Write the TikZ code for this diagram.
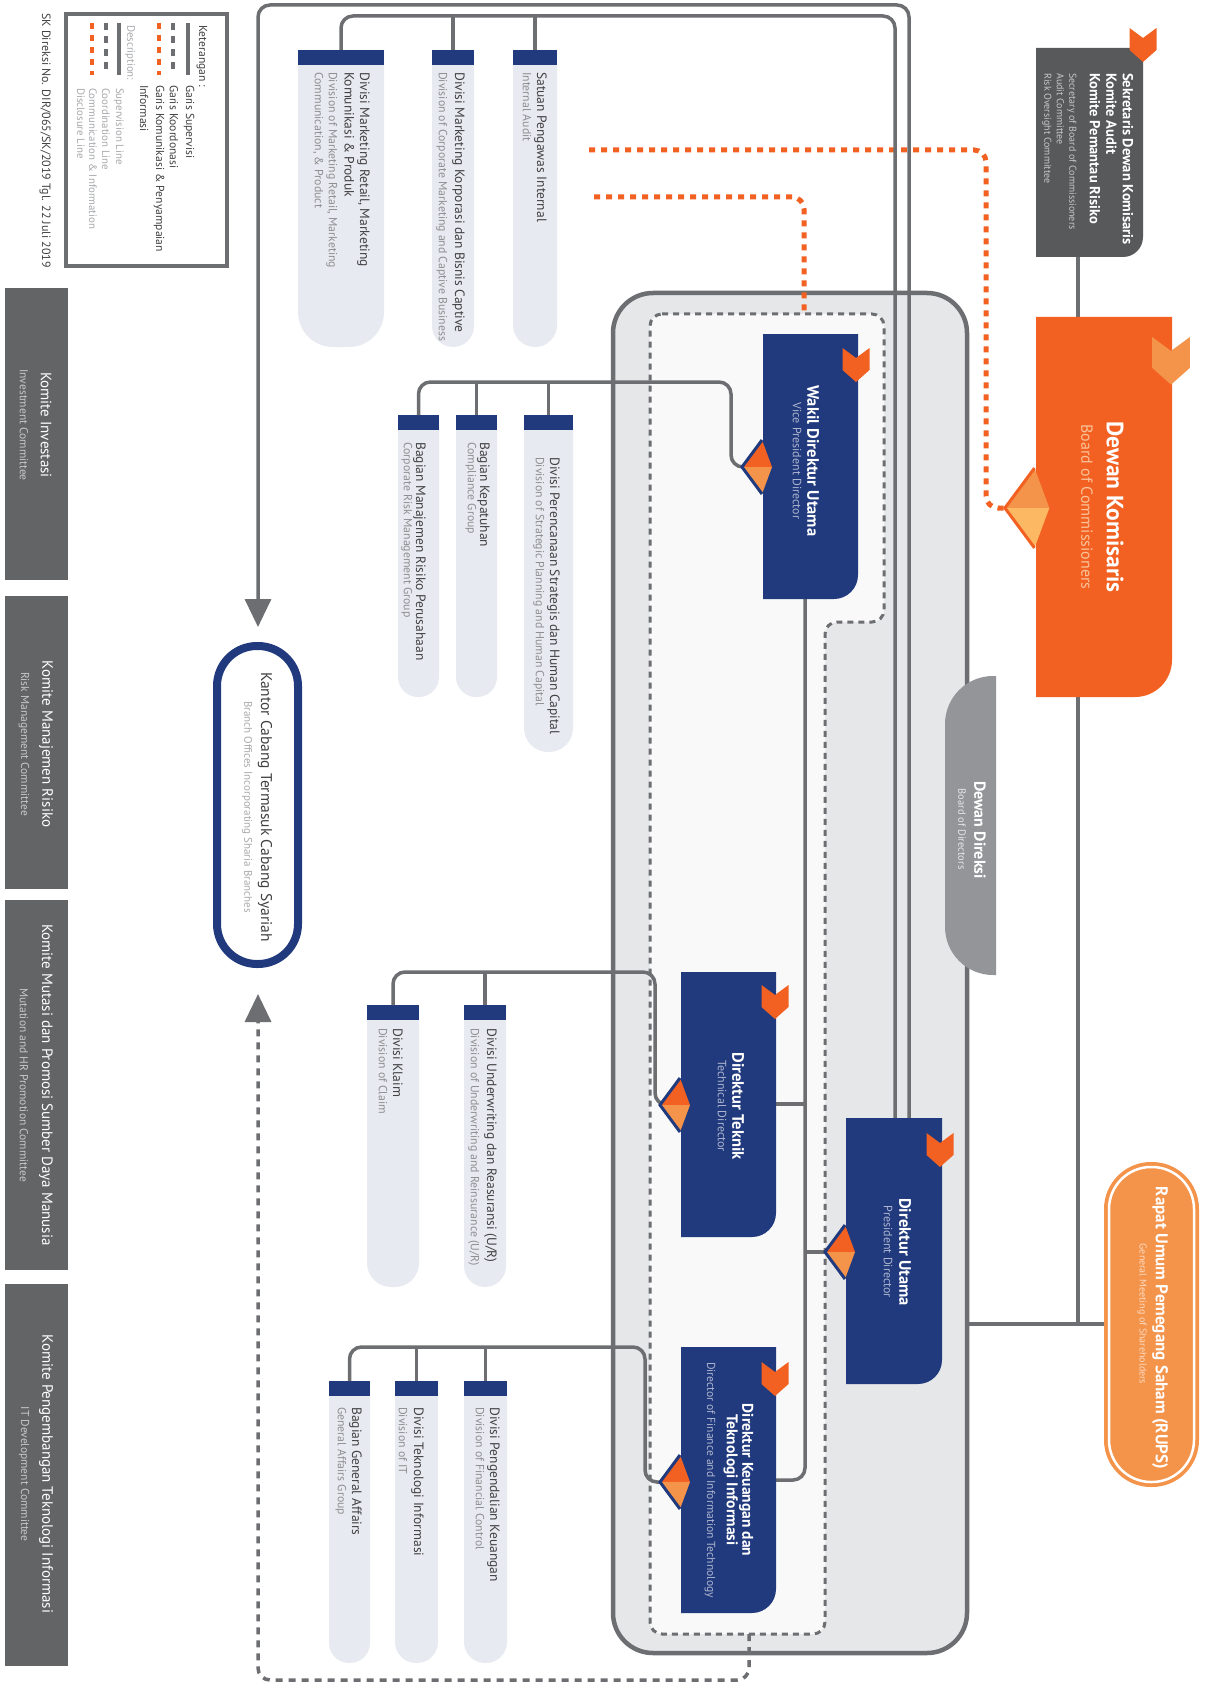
\documentclass[tikz,border=0pt]{standalone}
\usepackage{fontspec}
\setmainfont{PT Sans}
\usetikzlibrary{arrows.meta}

\definecolor{bniNavy}{HTML}{213A7D}
\definecolor{bniOrange}{HTML}{F26122}
\definecolor{bniOrangeL}{HTML}{F4934A}
\definecolor{bniYellow}{HTML}{FDB863}
\definecolor{bniLine}{HTML}{6D6E71}
\definecolor{bniDark}{HTML}{58595B}
\definecolor{bniKom}{HTML}{636466}
\definecolor{bniCol}{HTML}{E8EAF1}
\definecolor{bniBox}{HTML}{E6E7E8}
\definecolor{bniInner}{HTML}{F9F9F9}
\definecolor{bniMid}{HTML}{939598}
\definecolor{bniTxt}{HTML}{414042}
\definecolor{bniSoft}{HTML}{8C8E90}
\definecolor{bniSoftL}{HTML}{A7A9AC}
\definecolor{bniKomSub}{HTML}{C7C8CA}
\definecolor{bniNavySub}{HTML}{AEB6D0}
\definecolor{bniPeach}{HTML}{FAC39A}
\definecolor{bniPeachL}{HTML}{FDDCC4}

\newcommand{\cornerbox}[6]{% colour, left, top, right, bottom, radius
  \fill[#1] (#2,#3) -- (#4,#3) -- (#4,{#5-#6}) .. controls (#4,{#5-0.448*#6}) and ({#4-0.448*#6},#5) .. ({#4-#6},#5) -- (#2,#5) -- cycle;}
\newcommand{\divcol}[6]{% name, left, right, top, bottom, radius
  \fill[bniCol] (#2,#4) -- (#3,#4) -- (#3,{#5-#6}) .. controls (#3,{#5-0.448*#6}) and ({#3-0.448*#6},#5) .. ({#3-#6},#5) -- ({#2+#6},#5) .. controls ({#2+0.448*#6},#5) and (#2,{#5-0.448*#6}) .. (#2,{#5-#6}) -- cycle;
  \fill[bniNavy] (#2,#4) rectangle (#3,{#4+15});
  \coordinate (#1) at ({(#2+#3)/2},#4);}
\newcommand{\chev}[4][1]{% scale, centre x, top y, colour
  \fill[#4, shift={(#2,#3)}, scale=#1] (-13.5,0) -- (0,10) -- (13.5,0) -- (13.5,22) -- (0,34) -- (-13.5,22) -- cycle;}
\newcommand{\kite}[6]{% box left x, centre y, scale, upper, lower, rim
  \begin{scope}[shift={(#1,#2)}, scale=#3]
    \fill[#4] (-21,0) -- (-1,-27) -- (9,0) -- cycle;
    \fill[#5] (-21,0) -- (-1,27) -- (9,0) -- cycle;
    \draw[#6, line width=3pt, line join=miter] (-1,-27) -- (-21,0) -- (-1,27);
  \end{scope}}

\begin{document}
\begin{tikzpicture}[x=1pt, y=-1pt,
    supline/.style={draw=bniLine, line width=3.5pt, rounded corners=12pt},
    koorline/.style={draw=bniLine, line width=3.5pt, dash pattern=on 7pt off 6pt, rounded corners=12pt},
    infoline/.style={draw=bniOrange, line width=5pt, dash pattern=on 6pt off 6pt, rounded corners=12pt},
    bigtip/.style={-{Triangle[width=26pt,length=28pt]}},
    rot/.style={rotate=-90, inner sep=0pt},
    legtext/.style={rot, anchor=west, text=bniTxt, font=\fontsize{11.6}{16}\selectfont},
    legsub/.style={rot, anchor=west, text=bniSoftL, font=\fontsize{10.8}{12}\selectfont},
    komtext/.style={rot, text=white, font=\fontsize{15}{18}\selectfont},
    komsub/.style={rot, text=bniKomSub, font=\fontsize{11.5}{14}\selectfont},
    divmain/.style={rot, anchor=north west, align=left, text=bniTxt, font=\fontsize{13.5}{15.5}\selectfont},
    diveng/.style={rot, anchor=north west, align=left, text=bniSoft, font=\fontsize{11.8}{14}\selectfont},
    dirmain/.style={rot, align=center, text=white, font=\bfseries\fontsize{16.5}{15}\selectfont},
    direng/.style={rot, text=bniNavySub, font=\fontsize{12}{14}\selectfont}
  ]
  \fill[white] (0,0) rectangle (1208,1685);

  % legend
  \draw[bniLine, line width=4.5pt, fill=white] (66,14) rectangle (227,266);
  \draw[supline] (188,23) -- (188,75);
  \draw[koorline, line width=4pt] (173,23) -- (173,75);
  \draw[infoline, line width=4pt] (159,23) -- (159,75);
  \draw[supline] (119,23) -- (119,75);
  \draw[koorline, line width=4pt] (106,23) -- (106,75);
  \draw[infoline, line width=4pt] (92,23) -- (92,75);
  \node[legtext] (leg-title) at (202,25) {Keterangan :};
  \node[legtext] (leg-sup) at (189,85) {Garis Supervisi};
  \node[legtext] (leg-koor) at (174,85) {Garis Koordonasi};
  \node[legtext, anchor=north west, align=left] (leg-kom) at (164.5,85) {Garis Komunikasi \& Penyampaian\\Informasi};
  \node[legsub] (leg-desc) at (130,25) {Description:};
  \node[legsub] (leg-sup-en) at (119,88) {Supervision Line};
  \node[legsub] (leg-koor-en) at (106,88) {Coordination Line};
  \node[legsub, anchor=north west, align=left] (leg-kom-en) at (97,88) {Communication \& Information\\Disclosure Line};
  \node[legtext, font=\fontsize{12}{14}\selectfont] (sk) at (45,13) {SK Direksi No. DIR/065/SK/2019 Tgl. 22 Juli 2019};

  % committees
  \fill[bniKom] (5,288) rectangle (68,580);
  \fill[bniKom] (5,596) rectangle (68,889);
  \fill[bniKom] (5,900) rectangle (68,1270);
  \fill[bniKom] (5,1284) rectangle (68,1666);
  \node[komtext] (kom-inv) at (46,425) {Komite Investasi};
  \node[komsub] (kom-inv-en) at (24,425) {Investment Committee};
  \node[komtext] (kom-mr) at (46,744) {Komite Manajemen Risiko};
  \node[komsub] (kom-mr-en) at (24,744) {Risk Management Committee};
  \node[komtext] (kom-sdm) at (46,1085) {Komite Mutasi dan Promosi Sumber Daya Manusia};
  \node[komsub] (kom-sdm-en) at (24,1085) {Mutation and HR Promotion Committee};
  \node[komtext] (kom-ti) at (46,1474) {Komite Pengembangan Teknologi Informasi};
  \node[komsub] (kom-ti-en) at (24,1474) {IT Development Committee};

  % board of directors area
  \draw[bniLine, line width=4.5pt, fill=bniBox, rounded corners=40pt] (613,293) rectangle (967,1653);
  \draw[bniLine, line width=3pt, dash pattern=on 6pt off 5pt, fill=bniInner, rounded corners=12pt]
    (650,314) -- (884,314) -- (884,622) -- (825,622) -- (825,1634) -- (650,1634) -- cycle;

  % division columns
  \divcol{c-ret}{298}{384}{50}{347}{35}
  \divcol{c-kor}{432}{474}{50}{347}{21}
  \divcol{c-spi}{513}{557}{50}{347}{22}
  \divcol{c-mr}{398}{439}{415}{697}{20}
  \divcol{c-kep}{456}{497}{415}{697}{20}
  \divcol{c-psh}{524}{573}{415}{752}{24}
  \divcol{c-klm}{367}{419}{1005}{1287}{24}
  \divcol{c-uw}{464}{506}{1005}{1287}{21}
  \divcol{c-ga}{329}{370}{1381}{1663}{20}
  \divcol{c-ti}{395}{438}{1381}{1663}{21}
  \divcol{c-pk}{464}{507}{1381}{1663}{21}

  \coordinate (sek-s) at (1078,257);
  \coordinate (dk-n) at (1078,317);
  \coordinate (dk-s) at (1078,697);
  \coordinate (dk-w) at (1005,508);
  \coordinate (rups-w) at (1105,1324);
  \coordinate (bod-e) at (967,1324);
  \coordinate (wdu-w) at (742,467);
  \coordinate (wdu-s) at (805,599);
  \coordinate (wdu-bus) at (731,382);
  \coordinate (dt-w) at (660,1105);
  \coordinate (dt-e) at (776,1104);
  \coordinate (dt-bus) at (655,972);
  \coordinate (du-w) at (825,1252);
  \coordinate (du-n1) at (895,1118);
  \coordinate (du-n2) at (909,1118);
  \coordinate (dkt-w) at (662,1482);
  \coordinate (dkt-e) at (776,1480);
  \coordinate (dkt-bus) at (645,1347);
  \coordinate (kc-n) at (258,627);
  \coordinate (kc-s) at (258,994);
  \coordinate (inner-n) at (804,314);
  \coordinate (inner-s) at (749,1634);
  \coordinate (info-a) at (589,150);
  \coordinate (info-b) at (594,197);
  \coordinate (info-turn) at (986,150);
  \coordinate (top-a) at (0,5);
  \coordinate (top-b) at (0,16);
  \coordinate (koor-low) at (0,1680);

  % communication lines
  \draw[infoline] (info-a) -- (info-turn) -- (info-turn |- dk-w) -- (dk-w);
  \draw[infoline] (info-b) -- (inner-n |- info-b) -- (inner-n);

  % supervision lines
  \draw[supline, bigtip] (du-n2) -- (du-n2 |- top-a) -- (kc-n |- top-a) -- (kc-n);
  \draw[supline] (du-n1) -- (du-n1 |- top-b) -- (c-ret |- top-b) -- (c-ret);
  \draw[supline] (c-kor |- top-b) -- (c-kor);
  \draw[supline] (c-spi |- top-b) -- (c-spi);
  \draw[supline] (c-mr) -- (c-mr |- wdu-bus) -- (wdu-bus) -- (wdu-bus |- wdu-w) -- (wdu-w);
  \draw[supline] (c-kep |- wdu-bus) -- (c-kep);
  \draw[supline] (c-psh |- wdu-bus) -- (c-psh);
  \draw[supline] (c-klm) -- (c-klm |- dt-bus) -- (dt-bus) -- (dt-bus |- dt-w) -- (dt-w);
  \draw[supline] (c-uw |- dt-bus) -- (c-uw);
  \draw[supline] (c-ga) -- (c-ga |- dkt-bus) -- (dkt-bus) -- (dkt-bus |- dkt-w) -- (dkt-w);
  \draw[supline] (c-ti |- dkt-bus) -- (c-ti);
  \draw[supline] (c-pk |- dkt-bus) -- (c-pk);
  \draw[supline] (wdu-s) -- (wdu-s |- dkt-e) -- (dkt-e);
  \draw[supline] (dt-e) -- (dt-e -| wdu-s);
  \draw[supline] (wdu-s |- du-w) -- (du-w);
  \draw[supline] (sek-s) -- (dk-n);
  \draw[supline] (dk-s) -- (dk-s |- rups-w);
  \draw[supline] (bod-e) -- (rups-w);
  \draw[koorline, bigtip] (inner-s) -- (inner-s |- koor-low) -- (kc-s |- koor-low) -- (kc-s);

  % boxes
  \cornerbox{bniDark}{1036}{48}{1143}{257}{20}
  \cornerbox{bniOrange}{1036}{317}{1172}{697}{37}
  \cornerbox{bniNavy}{763}{334}{858}{599}{24}
  \cornerbox{bniNavy}{681}{972}{776}{1237}{24}
  \cornerbox{bniNavy}{846}{1118}{942}{1384}{24}
  \cornerbox{bniNavy}{681}{1347}{776}{1613}{24}
  \fill[bniMid] (996,676) -- (993,676) .. controls (966.5,676) and (945,697.5) .. (945,724)
    -- (945,927) .. controls (945,953.5) and (966.5,975) .. (993,975) -- (996,975) -- cycle;
  \fill[bniOrangeL, rounded corners=47pt] (1104,1162) rectangle (1199,1487);
  \draw[white, line width=2.5pt, rounded corners=42pt] (1109,1167) rectangle (1194,1482);
  \draw[bniNavy, line width=8pt, fill=white, rounded corners=40pt] (217,646) rectangle (298,964);

  \kite{1036}{508}{1.48}{bniOrangeL}{bniYellow}{bniOrange}
  \kite{763}{467}{1}{bniOrange}{bniOrangeL}{bniNavy}
  \kite{681}{1105}{1}{bniOrange}{bniOrangeL}{bniNavy}
  \kite{846}{1252}{1}{bniOrange}{bniOrangeL}{bniNavy}
  \kite{681}{1482}{1}{bniOrange}{bniOrangeL}{bniNavy}
  \chev{1143}{28}{bniOrange}
  \chev[1.4]{1171}{337}{bniOrangeL}
  \chev{856}{348}{bniOrange}
  \chev{775}{985}{bniOrange}
  \chev{940}{1133}{bniOrange}
  \chev{775}{1362}{bniOrange}

  % texts
  \node[rot, anchor=north west, align=left, text=white, font=\bfseries\fontsize{14.5}{16.5}\selectfont] (sek) at (1133.4,73)
    {Sekretaris Dewan Komisaris\\Komite Audit\\Komite Pemantau Risiko};
  \node[rot, anchor=north west, align=left, text=bniKomSub, font=\fontsize{10}{12.5}\selectfont] (sek-en) at (1076.7,73)
    {Secretary of Board of Commissioners\\Audit Committee\\Risk Oversight Committee};
  \node[rot, text=white, font=\bfseries\fontsize{23.5}{26}\selectfont] (dk) at (1115,507) {Dewan Komisaris};
  \node[rot, text=bniPeach, font=\fontsize{16}{19}\selectfont] (dk-en) at (1087,507) {Board of Commissioners};
  \node[rot, text=white, font=\bfseries\fontsize{17}{20}\selectfont] (rups) at (1160,1328) {Rapat Umum Pemegang Saham (RUPS)};
  \node[rot, text=bniPeachL, font=\fontsize{10}{12}\selectfont] (rups-en) at (1142,1314) {General Meeting of Shareholders};
  \node[rot, text=white, font=\bfseries\fontsize{16}{18}\selectfont] (bod) at (980,830) {Dewan Direksi};
  \node[rot, text=bniBox, font=\fontsize{10.5}{13}\selectfont] (bod-en) at (962,829) {Board of Directors};
  \node[dirmain] (wdu) at (813,461) {Wakil Direktur Utama};
  \node[direng] (wdu-en) at (797,461) {Vice President Director};
  \node[dirmain] (dt) at (738,1106) {Direktur Teknik};
  \node[direng] (dt-en) at (722,1106) {Technical Director};
  \node[dirmain] (du) at (905,1252) {Direktur Utama};
  \node[direng] (du-en) at (888,1252) {President Director};
  \node[dirmain, font=\bfseries\fontsize{15.5}{14}\selectfont] (dkt) at (738.5,1480) {Direktur Keuangan dan\\Teknologi Informasi};
  \node[direng, font=\fontsize{11.6}{14}\selectfont] (dkt-en) at (710,1480) {Director of Finance and Information Technology};
  \node[rot, text=bniTxt, font=\fontsize{15.5}{18}\selectfont] (kc) at (265,807) {Kantor Cabang Termasuk Cabang Syariah};
  \node[rot, text=bniSoftL, font=\fontsize{11}{13}\selectfont] (kc-en) at (247,807) {Branch Offices Incorporating Sharia Branches};

  \node[divmain] (t-ret) at (370,72) {Divisi Marketing Retail, Marketing\\Komunikasi \& Produk};
  \node[diveng] (t-ret-en) at (337.4,72) {Division of Marketing Retail, Marketing\\Communication, \& Product};
  \node[divmain] (t-kor) at (465,72) {Divisi Marketing Korporasi dan Bisnis Captive};
  \node[diveng] (t-kor-en) at (447.4,72) {Division of Corporate Marketing and Captive Business};
  \node[divmain] (t-spi) at (547,72) {Satuan Pengawas Internal};
  \node[diveng] (t-spi-en) at (531.4,72) {Internal Audit};
  \node[divmain] (t-mr) at (426,442) {Bagian Manajemen Risiko Perusahaan};
  \node[diveng] (t-mr-en) at (412.4,442) {Corporate Risk Management Group};
  \node[divmain] (t-kep) at (490,442) {Bagian Kepatuhan};
  \node[diveng] (t-kep-en) at (476.4,442) {Compliance Group};
  \node[divmain] (t-psh) at (560,457) {Divisi Perencanaan Strategis dan Human Capital};
  \node[diveng] (t-psh-en) at (544.4,457) {Division of Strategic Planning and Human Capital};
  \node[divmain] (t-klm) at (403,1028) {Divisi Klaim};
  \node[diveng] (t-klm-en) at (387.4,1028) {Division of Claim};
  \node[divmain] (t-uw) at (497,1028) {Divisi Underwriting dan Reasuransi (U/R)};
  \node[diveng] (t-uw-en) at (479.4,1028) {Division of Underwriting and Reinsurance (U/R)};
  \node[divmain] (t-ga) at (362,1407) {Bagian General Affairs};
  \node[diveng] (t-ga-en) at (346.4,1407) {General Affairs Group};
  \node[divmain] (t-ti) at (424,1407) {Divisi Teknologi Informasi};
  \node[diveng] (t-ti-en) at (407.4,1407) {Division of IT};
  \node[divmain] (t-pk) at (500,1407) {Divisi Pengendalian Keuangan};
  \node[diveng] (t-pk-en) at (484.4,1407) {Division of Financial Control};
\end{tikzpicture}
\end{document}
